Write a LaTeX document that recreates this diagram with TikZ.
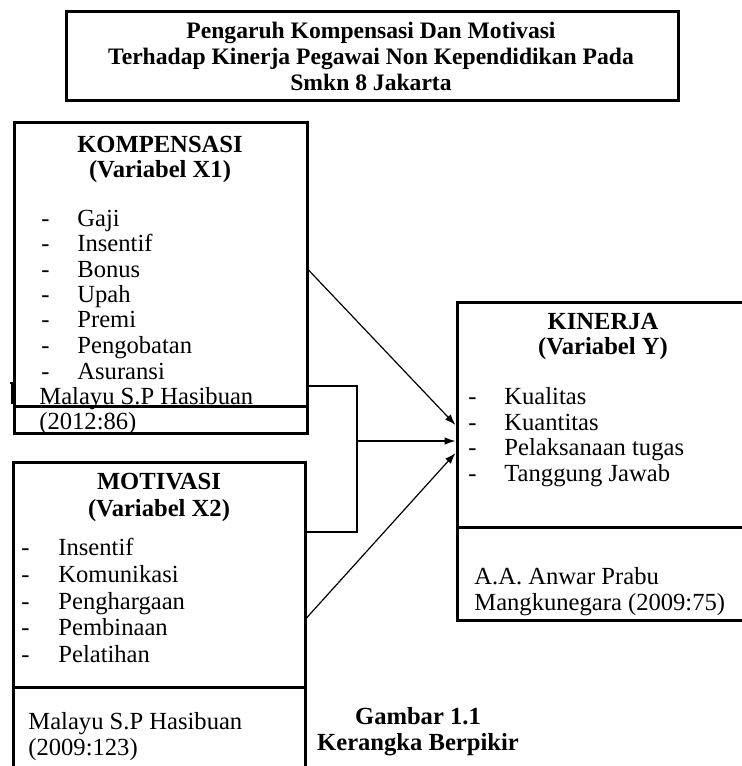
\documentclass[tikz,border=0pt]{standalone}
\usepackage{fontspec}
\setmainfont{Liberation Serif}
\usetikzlibrary{arrows.meta,fit}
\begin{document}
\begin{tikzpicture}[x=0.5pt,y=-0.5pt,
  frame/.style={draw, line width=1.5pt, inner sep=0pt},
  divider/.style={line width=1.5pt},
  conn/.style={line width=0.6pt},
  arr/.style={conn, -{Latex[length=5.5pt,width=3.8pt]}},
  txt/.style={inner sep=0pt, anchor=base west, font=\fontsize{12.3}{14}\selectfont},
  hd/.style={inner sep=0pt, anchor=base, font=\fontsize{12.3}{14}\selectfont\bfseries},
  ttl/.style={inner sep=0pt, anchor=base, font=\fontsize{11.8}{14}\selectfont\bfseries},
]
\useasboundingbox (0,0) rectangle (741,766);

% title
\node[frame, fit={(66,11) (678,100)}] (title) {};
\node[ttl] (t1) at (371,38) {Pengaruh Kompensasi Dan Motivasi};
\node[ttl] (t2) at (371,64) {Terhadap Kinerja Pegawai Non Kependidikan Pada};
\node[ttl] (t3) at (371,90) {Smkn 8 Jakarta};

% KOMPENSASI box
\node[frame, fit={(14,122) (307,433)}] (komp) {};
\draw[divider] (komp.west |- 0,406) -- (komp.east |- 0,406);
\draw[conn] (10,383) -- (12,383) -- (12,404);
\node[hd] (kh1) at (160,152) {KOMPENSASI};
\node[hd] (kh2) at (160,177) {(Variabel X1)};
\node[txt] (kd1) at (41,226) {-};
\node[txt] (kd2) at (41,251) {-};
\node[txt] (kd3) at (41,277) {-};
\node[txt] (kd4) at (41,302) {-};
\node[txt] (kd5) at (41,327) {-};
\node[txt] (kd6) at (41,353) {-};
\node[txt] (kd7) at (41,379) {-};
\node[txt] (ki1) at (77,226) {Gaji};
\node[txt] (ki2) at (77,251) {Insentif};
\node[txt] (ki3) at (77,277) {Bonus};
\node[txt] (ki4) at (77,302) {Upah};
\node[txt] (ki5) at (77,327) {Premi};
\node[txt] (ki6) at (77,353) {Pengobatan};
\node[txt] (ki7) at (77,379) {Asuransi};
\node[txt] (ks1) at (39,404) {Malayu S.P Hasibuan};
\node[txt] (ks2) at (39,429) {(2012:86)};

% MOTIVASI box
\node[frame, fit={(13,462) (305,790)}] (mot) {};
\draw[divider] (mot.west |- 0,687) -- (mot.east |- 0,687);
\node[hd] (mh1) at (159,489) {MOTIVASI};
\node[hd] (mh2) at (159,516) {(Variabel X2)};
\node[txt] (md1) at (21,555) {-};
\node[txt] (md2) at (21,582) {-};
\node[txt] (md3) at (21,609) {-};
\node[txt] (md4) at (21,635) {-};
\node[txt] (md5) at (21,662) {-};
\node[txt] (mi1) at (58,555) {Insentif};
\node[txt] (mi2) at (58,582) {Komunikasi};
\node[txt] (mi3) at (58,609) {Penghargaan};
\node[txt] (mi4) at (58,635) {Pembinaan};
\node[txt] (mi5) at (58,662) {Pelatihan};
\node[txt] (ms1) at (28,729) {Malayu S.P Hasibuan};
\node[txt] (ms2) at (28,755) {(2009:123)};

% KINERJA box
\node[frame, fit={(457,302) (749,620)}] (kin) {};
\draw[divider] (kin.west |- 0,527) -- (kin.east |- 0,527);
\node[hd] (yh1) at (603,329) {KINERJA};
\node[hd] (yh2) at (603,354) {(Variabel Y)};
\node[txt] (yd1) at (468,404) {-};
\node[txt] (yd2) at (468,430) {-};
\node[txt] (yd3) at (468,455) {-};
\node[txt] (yd4) at (468,481) {-};
\node[txt] (yi1) at (504,404) {Kualitas};
\node[txt] (yi2) at (504,430) {Kuantitas};
\node[txt] (yi3) at (504,455) {Pelaksanaan tugas};
\node[txt] (yi4) at (504,481) {Tanggung Jawab};
\node[txt] (ys1) at (474,584) {A.A. Anwar Prabu};
\node[txt] (ys2) at (474,610) {Mangkunegara (2009:75)};

% caption
\node[hd] (c1) at (418,724) {Gambar 1.1};
\node[hd] (c2) at (418,750) {Kerangka Berpikir};

% connectors
\coordinate (br) at (357,441);
\draw[conn] (komp.east |- 0,386) -- (br |- 0,386) -- (br |- 0,532) -- (mot.east |- 0,532);
\draw[arr] (br) -- (kin.west |- br);
\draw[arr] (komp.east |- 0,270) -- (kin.west |- 0,425);
\draw[arr] (mot.east |- 0,618) -- (kin.west |- 0,453);
\end{tikzpicture}
\end{document}
